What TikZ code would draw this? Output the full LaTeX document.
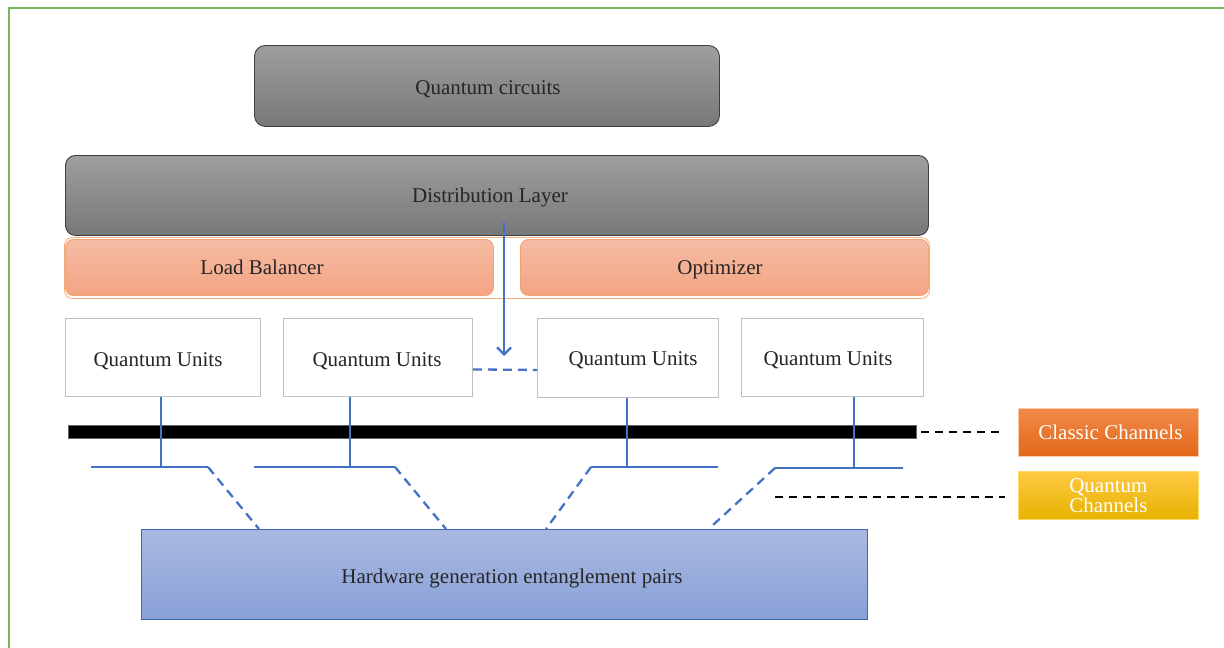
\documentclass[tikz,border=0pt]{standalone}
\usepackage{fontspec}
\setmainfont{Liberation Serif}
\usetikzlibrary{arrows.meta,calc}
\definecolor{txt}{HTML}{262626}
\definecolor{frame}{HTML}{7AB55C}
\definecolor{link}{HTML}{4472C4}
\definecolor{grayedge}{HTML}{3F3F3F}
\definecolor{quedge}{HTML}{BFBFBF}
\begin{document}
\begin{tikzpicture}[x=1pt,y=-1pt,
  box/.style={inner sep=0pt, anchor=north west},
  caption/.style={inner sep=0pt, anchor=base, text=txt,
    font=\fontsize{21}{22}\selectfont},
  graybox/.style={box, rounded corners=11pt, draw=grayedge, line width=0.9pt,
    top color=black!38, bottom color=black!53},
  salmonbox/.style={box, rounded corners=8pt, draw={rgb,255:red,244;green,160;blue,112}, line width=0.9pt,
    top color={rgb,255:red,245;green,188;blue,165}, bottom color={rgb,255:red,244;green,164;blue,130}},
  unitbox/.style={box, draw=quedge, line width=0.9pt, fill=white},
  legendbox/.style={box, text=white, align=center,
    font=\fontsize{21}{20}\selectfont},
  wire/.style={draw=link, line width=2.3pt},
  wiredash/.style={wire, dash pattern=on 9pt off 6pt},
  legdash/.style={draw=black, line width=2.4pt, dash pattern=on 8pt off 6pt}]
\useasboundingbox (0,0) rectangle (1224,648);

% page frame
\draw[frame, line width=1.6pt] (9,648) -- (9,8) -- (1224,8);

% layers
\node[graybox, minimum width=465pt, minimum height=81pt] (qc) at (254,45) {};
\node[caption] (qc-text) at (488,94) {Quantum circuits};
\node[graybox, rounded corners=10pt, minimum width=863pt, minimum height=80pt] (dl) at (65,155) {};
\node[caption] (dl-text) at (490,202) {Distribution Layer};
\node[box, rounded corners=8pt, draw={rgb,255:red,246;green,176;blue,128}, line width=0.9pt,
  minimum width=865pt, minimum height=61pt] (band) at (64,237) {};
\node[salmonbox, minimum width=428pt, minimum height=56pt] (lb) at (65,239) {};
\node[caption] (lb-text) at (262,274) {Load Balancer};
\node[salmonbox, minimum width=408pt, minimum height=56pt] (opt) at (520,239) {};
\node[caption] (opt-text) at (720,274) {Optimizer};

% quantum units
\node[unitbox, minimum width=195pt, minimum height=78pt] (qu1) at (65,318) {};
\node[unitbox, minimum width=189pt, minimum height=78pt] (qu2) at (283,318) {};
\node[unitbox, minimum width=181pt, minimum height=79pt] (qu3) at (537,318) {};
\node[unitbox, minimum width=182pt, minimum height=78pt] (qu4) at (741,318) {};
\node[caption] (qu1-text) at (158,366) {Quantum Units};
\node[caption] (qu2-text) at (377,366) {Quantum Units};
\node[caption] (qu3-text) at (633,365) {Quantum Units};
\node[caption] (qu4-text) at (828,365) {Quantum Units};

% classical bus
\node[box, fill=black, draw=black!60, line width=0.6pt, minimum width=848pt, minimum height=13pt] (bar) at (68,425) {};

% entanglement hardware
\node[box, draw=link!90!black, line width=1pt,
  top color={rgb,255:red,169;green,184;blue,224}, bottom color={rgb,255:red,137;green,161;blue,216},
  minimum width=726pt, minimum height=90pt] (hw) at (141,529) {};
\node[caption] (hw-text) at (512,583) {Hardware generation entanglement pairs};

% legend
\node[legendbox, draw={rgb,255:red,248;green,203;blue,173}, line width=0.8pt,
  top color={rgb,255:red,241;green,138;blue,74}, bottom color={rgb,255:red,226;green,104;blue,24},
  minimum width=180pt, minimum height=48pt] (cc) at (1018,408) {\hspace{4pt}Classic Channels};
\node[legendbox, draw={rgb,255:red,255;green,217;blue,102}, line width=0.8pt,
  top color={rgb,255:red,255;green,201;blue,67}, bottom color={rgb,255:red,230;green,178;blue,0},
  minimum width=180pt, minimum height=48pt] (qch) at (1018,471) {Quantum\\Channels};

% distribution arrow
\coordinate (arrtop) at (504,222);
\coordinate (arrtip) at (504,356);
\draw[wire, -{Straight Barb[length=7pt,width=14pt]}] (arrtop) -- (arrtip);

% link between neighbouring units
\draw[wiredash] ($(qu2.east)+(0,12)$) -- ($(qu3.west)+(0,12)$);

% unit taps and quantum links
\coordinate (t1) at (161,467);
\coordinate (t2) at (350,467);
\coordinate (t3) at (627,467);
\coordinate (t4) at (854,468);
\draw[wire] (qu1.south -| t1) -- (t1);
\draw[wire] (qu2.south -| t2) -- (t2);
\draw[wire] (qu3.south -| t3) -- (t3);
\draw[wire] (qu4.south -| t4) -- (t4);

\coordinate (a1) at (91,467);   \coordinate (b1) at (208,467);
\coordinate (a2) at (254,467);  \coordinate (b2) at (395,467);
\coordinate (a3) at (591,467);  \coordinate (b3) at (718,467);
\coordinate (a4) at (775,468);  \coordinate (b4) at (903,468);
\draw[wire] (a1) -- (b1);
\draw[wire] (a2) -- (b2);
\draw[wire] (a3) -- (b3);
\draw[wire] (a4) -- (b4);

\coordinate (h1) at (259,529);
\coordinate (h2) at (446,529);
\coordinate (h3) at (546,529);
\coordinate (h4) at (713,525);
\draw[wiredash] (b1) -- (h1);
\draw[wiredash] (b2) -- (h2);
\draw[wiredash] (a3) -- (h3);
\draw[wiredash] (a4) -- (h4);

% legend leaders
\coordinate (cl1) at (921,432);  \coordinate (cl2) at (1000,432);
\coordinate (ql1) at (775,497);  \coordinate (ql2) at (1005,497);
\draw[legdash] (cl1) -- (cl2);
\draw[legdash] (ql1) -- (ql2);
\end{tikzpicture}
\end{document}
